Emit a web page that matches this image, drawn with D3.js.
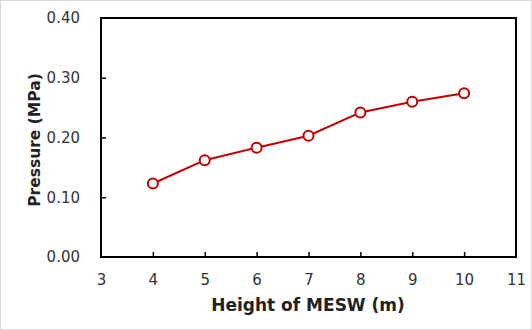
<!DOCTYPE html>
<html><head><meta charset="utf-8">
<script src="https://cdn.jsdelivr.net/npm/d3@7"></script>
<style>body{margin:0;background:#fff}</style>
</head><body>
<svg id="c" width="532" height="330"></svg>
<script>
const heights = [4, 5, 6, 7, 8, 9, 10];
const pressure = [0.123, 0.162, 0.183, 0.203, 0.242, 0.260, 0.274];
const xTicks = [3, 4, 5, 6, 7, 8, 9, 10, 11];
const yTicks = [0, 0.1, 0.2, 0.3, 0.4];

const svg = d3.select("#c");
const m = {l:101, t:18, r:516, b:257};
const x = d3.scaleLinear().domain([3, 11]).range([m.l, m.r]);
const y = d3.scaleLinear().domain([0, 0.4]).range([m.b, m.t]);
const font = "DejaVu Sans, Verdana, sans-serif";

svg.append("rect").attr("x",0.5).attr("y",0.5).attr("width",531).attr("height",329)
  .attr("fill","#fff").attr("stroke","#d9d9d9");

const xa = svg.append("g").attr("transform",`translate(0,${m.b})`)
  .call(d3.axisBottom(x).tickValues(xTicks).tickSizeInner(-5).tickSizeOuter(0).tickPadding(17).tickFormat(d3.format("d")));
const ya = svg.append("g").attr("transform",`translate(${m.l},0)`)
  .call(d3.axisLeft(y).tickValues(yTicks).tickSizeInner(-5).tickSizeOuter(0).tickPadding(21).tickFormat(d3.format(".2f")));
[xa, ya].forEach(a => {
  a.select(".domain").remove();
  a.selectAll(".tick line").attr("stroke","#000").attr("stroke-width",1.5);
  a.selectAll(".tick text").attr("font-family",font).attr("font-size",15).attr("fill","#333");
});
xa.selectAll(".tick line").filter(d => d===3 || d===11).remove();
ya.selectAll(".tick line").filter(d => d===0 || d===0.4).remove();

svg.append("rect").attr("x",m.l).attr("y",m.t).attr("width",m.r-m.l).attr("height",m.b-m.t)
  .attr("fill","none").attr("stroke","#000").attr("stroke-width",2);

const pts = heights.map((h,i)=>[h, pressure[i]]);
svg.append("path").datum(pts)
  .attr("d", d3.line().x(d=>x(d[0])).y(d=>y(d[1])))
  .attr("fill","none").attr("stroke","#c00000").attr("stroke-width",2);
svg.selectAll("circle.p").data(pts).join("circle").attr("class","p")
  .attr("cx",d=>x(d[0])).attr("cy",d=>y(d[1])).attr("r",5)
  .attr("fill","#fff").attr("stroke","#c00000").attr("stroke-width",2);

svg.append("text").attr("x",308).attr("y",311).attr("text-anchor","middle")
  .attr("font-family",font).attr("font-size",17).attr("font-weight","bold").attr("fill","#222")
  .text("Height of MESW (m)");
svg.append("text").attr("transform","translate(40,140) rotate(-90)").attr("text-anchor","middle")
  .attr("font-family",font).attr("font-size",15.5).attr("font-weight","bold").attr("fill","#222")
  .text("Pressure (MPa)");
</script>
</body></html>
